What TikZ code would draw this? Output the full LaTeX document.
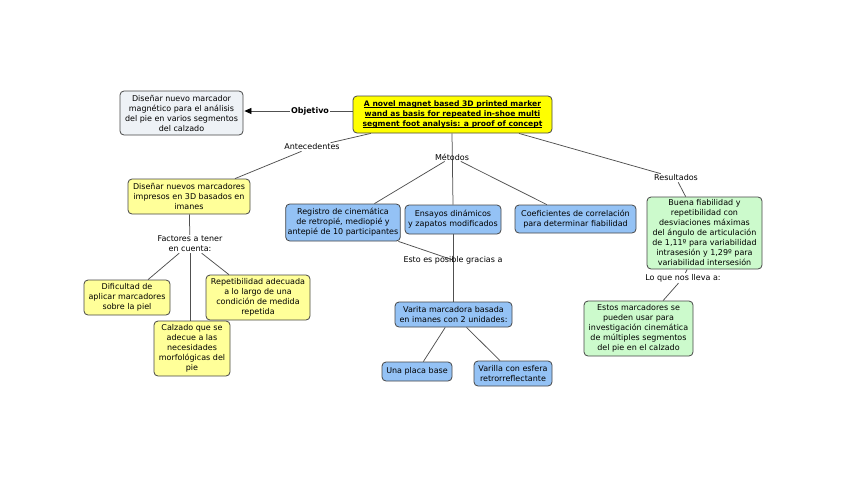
\documentclass[tikz,border=0pt]{standalone}
\usepackage{fontspec}
\setmainfont{DejaVu Sans}
\usetikzlibrary{arrows.meta,backgrounds}
\definecolor{ylw}{RGB}{255,255,153}
\definecolor{ttl}{RGB}{255,255,0}
\definecolor{blu}{RGB}{148,194,245}
\definecolor{grn}{RGB}{204,250,204}
\definecolor{gry}{RGB}{238,242,246}
\definecolor{bord}{RGB}{70,70,70}
\definecolor{lin}{RGB}{80,80,80}
\newcommand\myul[1]{\setbox0\hbox{#1}\rlap{\rule[-1.4pt]{\wd0}{0.55pt}}\box0}
\tikzset{
  box/.style={draw=bord, line width=0.8pt, rounded corners=4pt, align=center,
    font=\fontsize{8}{10}\selectfont, inner sep=2pt},
  ybox/.style={box, fill=ylw},
  bbox/.style={box, fill=blu},
  gbox/.style={box, fill=grn},
  lab/.style={align=center, font=\fontsize{8}{10}\selectfont, inner sep=1pt},
  conn/.style={draw=lin, line width=0.75pt},
}
\begin{document}
\begin{tikzpicture}[x=1pt,y=-1pt]
\useasboundingbox (0,0) rectangle (848,477);
% nodes
\node[box, fill=gry, minimum width=123pt, minimum height=44pt] (obj) at (181.5,113)
  {Diseñar nuevo marcador\\magnético para el análisis\\del pie en varios segmentos\\del calzado};
\node[box, fill=ttl, minimum width=199pt, minimum height=37pt, font=\bfseries\fontsize{7.6}{10}\selectfont] (title) at (452.5,114.5)
  {\myul{A novel magnet based 3D printed marker}\\\myul{wand as basis for repeated in-shoe multi}\\\myul{segment foot analysis: a proof of concept}};
\node[lab, font=\bfseries\fontsize{8}{10}\selectfont] (objl) at (310,111) {Objetivo};
\node[lab] (antl) at (312,147) {Antecedentes};
\node[lab] (metl) at (452,157) {Métodos};
\node[lab] (resl) at (676,178) {Resultados};

\node[ybox, minimum width=122pt, minimum height=35pt] (ant) at (189,196.5)
  {Diseñar nuevos marcadores\\impresos en 3D basados en\\imanes};
\node[lab] (facl) at (190,244) {Factores a tener\\en cuenta:};
\node[ybox, minimum width=86pt, minimum height=35pt] (dif) at (127,297.5)
  {Dificultad de\\aplicar marcadores\\sobre la piel};
\node[ybox, minimum width=76pt, minimum height=55pt] (calz) at (192,348.5)
  {Calzado que se\\adecue a las\\necesidades\\morfológicas del\\pie};
\node[ybox, minimum width=104pt, minimum height=45pt] (rep) at (258,297.5)
  {Repetibilidad adecuada\\a lo largo de una\\condición de medida\\repetida};

\node[bbox, minimum width=114pt, minimum height=37pt] (reg) at (343,222.5)
  {Registro de cinemática\\de retropié, mediopié y\\antepié de 10 participantes};
\node[bbox, minimum width=96pt, minimum height=29pt] (ens) at (453,219.5)
  {Ensayos dinámicos\\y zapatos modificados};
\node[bbox, minimum width=121pt, minimum height=28pt] (coef) at (575.5,219)
  {Coeficientes de correlación\\para determinar fiabilidad};
\node[lab] (estl) at (453,260) {Esto es posible gracias a};
\node[bbox, minimum width=117pt, minimum height=25pt] (var) at (453.5,314.5)
  {Varita marcadora basada\\en imanes con 2 unidades:};
\node[bbox, minimum width=70pt, minimum height=19pt] (placa) at (417,371.5)
  {Una placa base};
\node[bbox, minimum width=78pt, minimum height=25pt] (vari) at (513,373.5)
  {Varilla con esfera\\retrorreflectante};

\node[gbox, minimum width=115pt, minimum height=72pt] (buena) at (704.5,233)
  {Buena fiabilidad y\\repetibilidad con\\desviaciones máximas\\del ángulo de articulación\\de 1,11º para variabilidad\\intrasesión y 1,29º para\\variabilidad intersesión};
\node[lab] (lol) at (683,278) {Lo que nos lleva a:};
\node[gbox, minimum width=109pt, minimum height=55pt] (estos) at (638.5,328.5)
  {Estos marcadores se\\pueden usar para\\investigación cinemática\\de múltiples segmentos\\del pie en el calzado};

% connectors
\begin{scope}[on background layer]
\draw[conn] (objl -| title.west) -- (objl);
\draw[conn, -{Triangle[length=7pt,width=6pt,color=black]}, shorten >=1pt] (objl) -- (obj.east |- objl);
\draw[conn] (title) -- (antl);
\draw[conn] (antl) -- (ant.north east -| 235,0);
\draw[conn] (title.south -| metl) -- (ens.north);
\draw[conn] (metl) -- (reg);
\draw[conn] (metl) -- (coef);
\draw[conn] (title) -- (resl);
\draw[conn] (resl) -- (buena);
\draw[conn] (ant) -- (facl);
\draw[conn] (facl) -- (dif);
\draw[conn] (facl.south) -- (calz.north -| facl.south);
\draw[conn] (facl) -- (rep);
\draw[conn] (ens.south) -- (var.north -| ens.south);
\draw[conn] (reg) -- (estl.center);
\draw[conn] (var) -- (placa);
\draw[conn] (var) -- (vari);
\draw[conn] (buena) -- (lol);
\draw[conn] (lol) -- (estos);
\end{scope}
\end{tikzpicture}
\end{document}
